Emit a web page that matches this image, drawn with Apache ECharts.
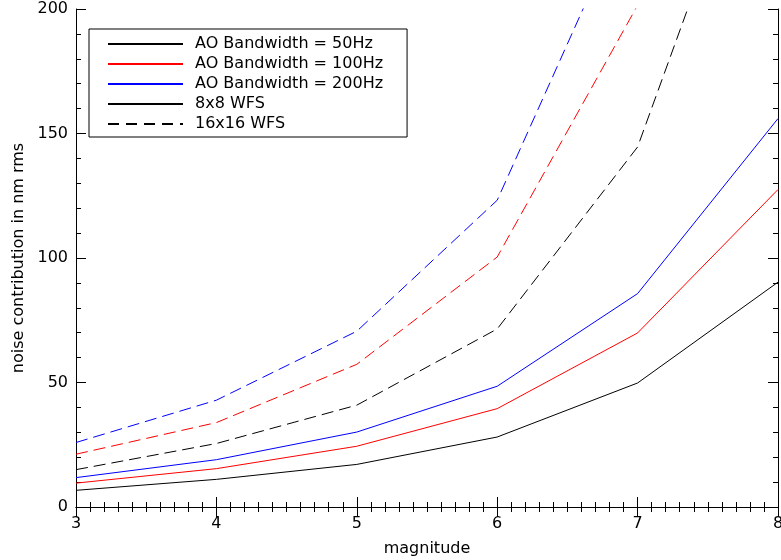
<!DOCTYPE html>
<html><head><meta charset="utf-8">
<script src="https://cdn.jsdelivr.net/npm/echarts@6/dist/echarts.min.js"></script>
<style>html,body{margin:0;padding:0;background:#fff}#c{width:781px;height:560px}</style>
</head><body><div id="c"></div>
<script>
const magnitudes = [3, 4, 5, 6, 7, 8];
const bw50_8x8   = [6.7, 11.1, 17.1, 28.1, 49.8, 90.3];
const bw100_8x8  = [9.6, 15.4, 24.4, 39.5, 69.9, 127.5];
const bw200_8x8  = [11.8, 19.0, 30.1, 48.5, 85.7, 156.0];
const bw50_16x16 = [15.0, 25.5, 40.9, 71.5, 144.6, 300];
const bw100_16x16= [21.2, 33.9, 57.3, 100.4, 201.5, 420];
const bw200_16x16= [25.9, 42.9, 70.6, 123.2, 248.8, 515];
const legendNames = ['AO Bandwidth = 50Hz','AO Bandwidth = 100Hz','AO Bandwidth = 200Hz','8x8 WFS','16x16 WFS'];
const xTicks = [3,4,5,6,7,8];
const yTicks = [0,50,100,150,200];

const FONT = 'DejaVu Sans';
const pair = (arr) => magnitudes.map((m,i)=>[m,arr[i]]);
const dash = [12,6];
function real(name, data, color, dashed){
  return {name, type:'line', data:pair(data), symbol:'none', silent:true,
    xAxisIndex:0, yAxisIndex:0,
    lineStyle:{color, width:1, type: dashed? dash : 'solid'}, itemStyle:{color}, z:3};
}
function dummy(name, color, dashed){
  return {name, type:'line', data:[], symbol:'none', showSymbol:false,
    xAxisIndex:0, yAxisIndex:0,
    lineStyle:{color, width:1, type: dashed? [11,7] : 'solid'}, itemStyle:{color}};
}
const near = (v, list) => list.some(t => Math.abs(t - v) < 1e-6);
const G = {left:76, right:3, top:9, bottom:53, outerBoundsMode:'none', containLabel:false};
// minor-tick axes (grid 0) carry labels; major-tick axes (grid 1) carry long ticks
function ax(kind, gridIndex, position, min, max, interval, len, extra){
  return Object.assign({
    type:'value', gridIndex, position, min, max, interval,
    axisLine:{show: gridIndex===0, lineStyle:{color:'#000', width:1}},
    axisTick:{show:true, inside:true, length:len, lineStyle:{color:'#000'}},
    axisLabel:{show:false},
    minorTick:{show:false},
    splitLine:{show:false}
  }, extra||{});
}
const chart = echarts.init(document.getElementById('c'));
chart.setOption({
  animation:false,
  backgroundColor:'#fff',
  grid:[G, Object.assign({}, G)],
  legend:{
    show:true,
    data: legendNames, orient:'vertical', left:89, top:29,
    itemWidth:75, itemHeight:14, itemGap:4,
    borderColor:'#000', borderWidth:1, borderRadius:0,
    padding:[7,24,5,18],
    itemStyle:{opacity:0},
    textStyle:{fontFamily:FONT, fontSize:16, lineHeight:16, color:'#000', padding:[0,0,0,7]},
    selectedMode:false
  },
  xAxis:[
    ax('x',0,'bottom',3,8,0.1,5,{
      axisLabel:{show:true, color:'#000', fontFamily:FONT, fontSize:16, margin:9,
        formatter:(v)=> near(v, xTicks)? String(Math.round(v)):''},
      name:'magnitude', nameLocation:'middle', nameGap:34,
      nameTextStyle:{color:'#000', fontFamily:FONT, fontSize:16}}),
    ax('x',0,'top',3,8,0.1,5),
    ax('x',1,'bottom',3,8,1,10),
    ax('x',1,'top',3,8,1,10)
  ],
  yAxis:[
    ax('y',0,'left',0,200,10,5,{
      axisLabel:{show:true, color:'#000', fontFamily:FONT, fontSize:16, margin:8,
        formatter:(v)=> near(v, yTicks)? String(Math.round(v)):''},
      name:'noise contribution in nm rms', nameLocation:'middle', nameGap:47, nameRotate:90,
      nameTextStyle:{color:'#000', fontFamily:FONT, fontSize:16}}),
    ax('y',0,'right',0,200,10,5),
    ax('y',1,'left',0,200,50,10),
    ax('y',1,'right',0,200,50,10)
  ],
  series:[
    real('s50a', bw50_8x8, '#000', false),
    real('s100a', bw100_8x8, '#ff0000', false),
    real('s200a', bw200_8x8, '#0000ff', false),
    real('s50b', bw50_16x16, '#000', true),
    real('s100b', bw100_16x16, '#ff0000', true),
    real('s200b', bw200_16x16, '#0000ff', true),
    dummy(legendNames[0], '#000', false),
    dummy(legendNames[1], '#ff0000', false),
    dummy(legendNames[2], '#0000ff', false),
    dummy(legendNames[3], '#000', false),
    dummy(legendNames[4], '#000', true),
    {type:'line', data:[], xAxisIndex:2, yAxisIndex:2, silent:true}
  ]
});
</script></body></html>
